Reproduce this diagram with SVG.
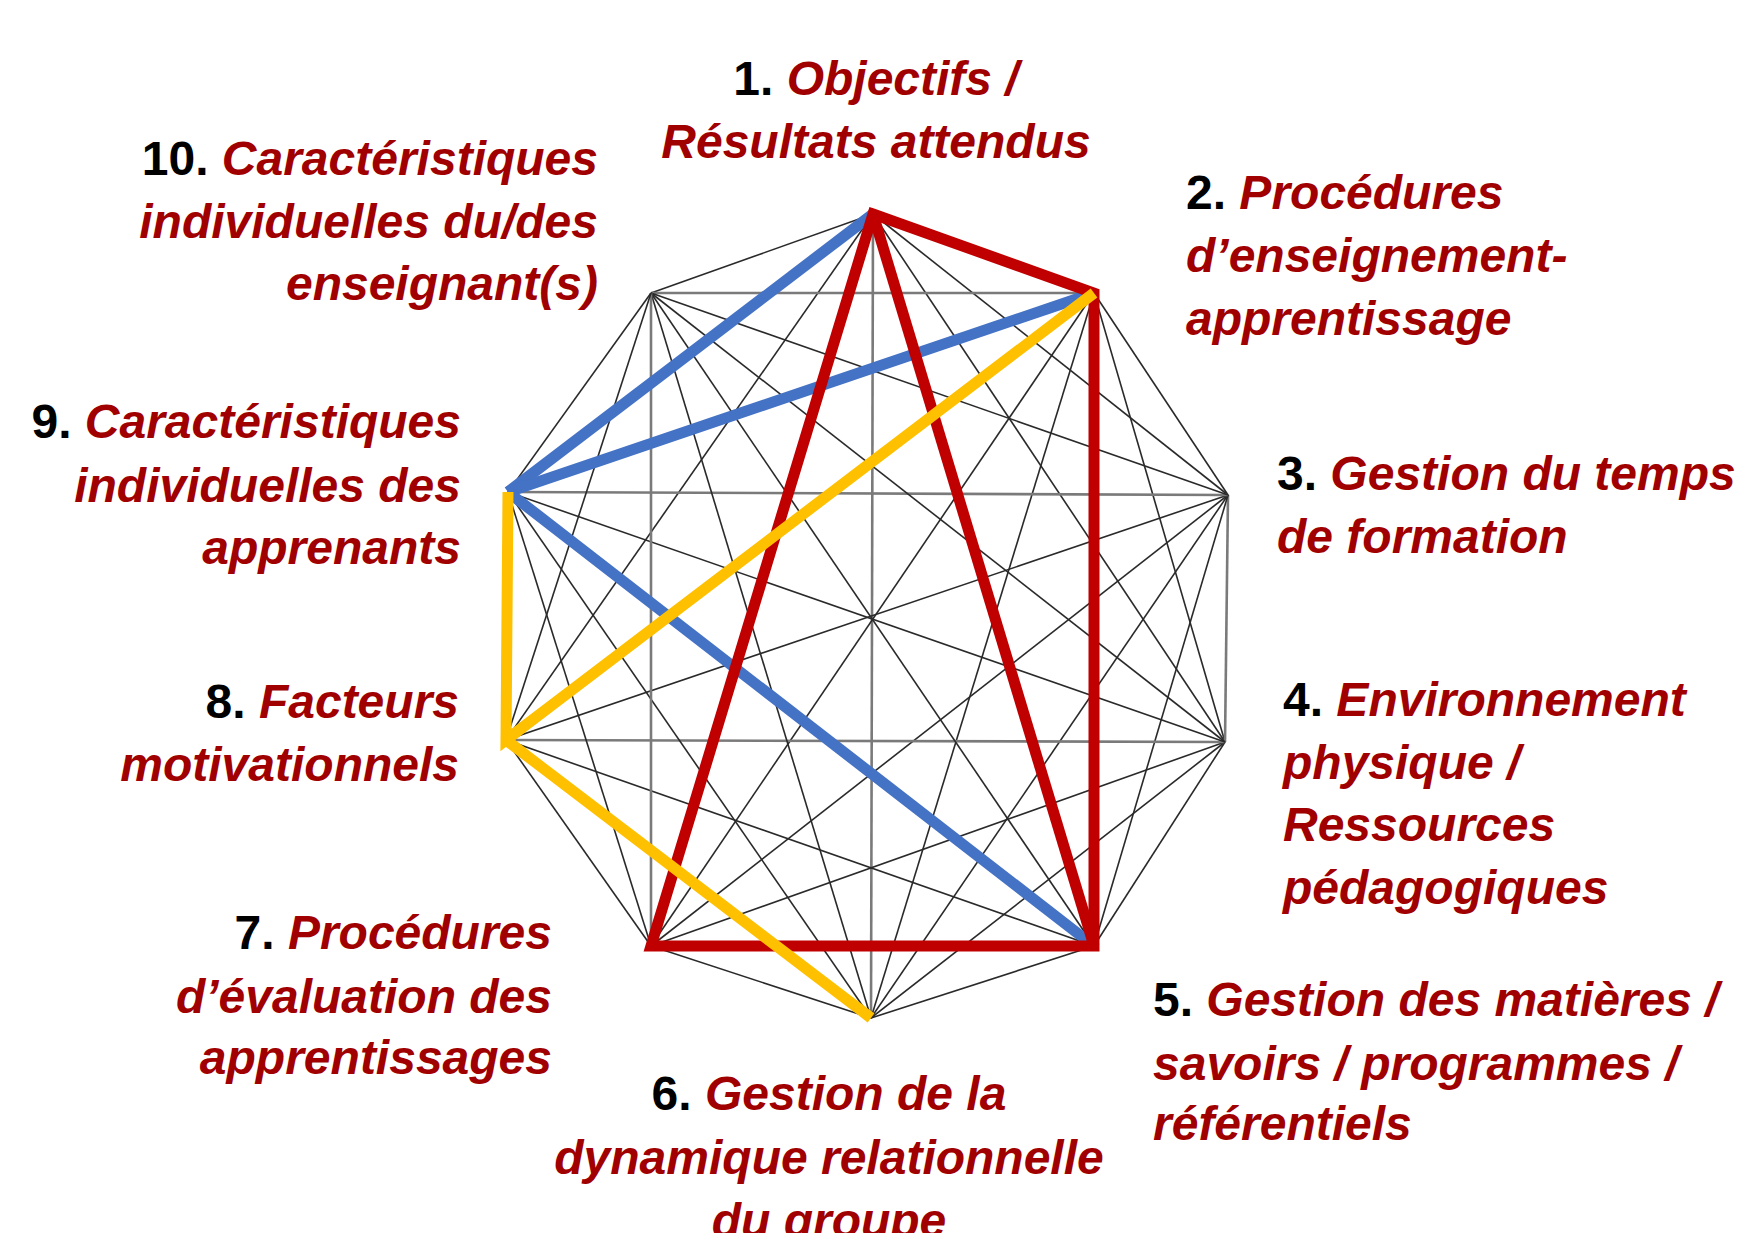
<svg xmlns="http://www.w3.org/2000/svg" width="1745" height="1233" viewBox="0 0 1745 1233">
<style>
.t{font-family:"Liberation Sans",Arial,sans-serif;font-weight:bold;font-size:48px;fill:#A00000;font-style:italic}
.n{fill:#000;font-style:normal}
.e{text-anchor:end}
.m{text-anchor:middle}
.d{stroke:#2a2a2a;stroke-width:1.6;fill:none}
.a{stroke:#7a7a7a;stroke-width:2.6;fill:none}
.red{stroke:#C00000;stroke-width:11;fill:none;stroke-linejoin:miter}
.blue{stroke:#4472C4;stroke-width:11;fill:none}
.yel{stroke:#FFC000;stroke-width:11;fill:none;stroke-linejoin:miter}
</style>
<rect width="1745" height="1233" fill="#fff"/>
<g id="connectors">
<g id="mesh">
<line class="d" x1="873" y1="214" x2="1094" y2="293"/>
<line class="d" x1="873" y1="214" x2="1228" y2="495"/>
<line class="d" x1="873" y1="214" x2="1225" y2="742"/>
<line class="d" x1="873" y1="214" x2="1094" y2="946"/>
<line class="a" x1="873" y1="214" x2="871" y2="1018"/>
<line class="d" x1="873" y1="214" x2="651" y2="946"/>
<line class="d" x1="873" y1="214" x2="506" y2="740"/>
<line class="d" x1="873" y1="214" x2="508" y2="492"/>
<line class="d" x1="873" y1="214" x2="651" y2="293"/>
<line class="d" x1="1094" y1="293" x2="1228" y2="495"/>
<line class="d" x1="1094" y1="293" x2="1225" y2="742"/>
<line class="a" x1="1094" y1="293" x2="1094" y2="946"/>
<line class="d" x1="1094" y1="293" x2="871" y2="1018"/>
<line class="d" x1="1094" y1="293" x2="651" y2="946"/>
<line class="d" x1="1094" y1="293" x2="506" y2="740"/>
<line class="d" x1="1094" y1="293" x2="508" y2="492"/>
<line class="a" x1="1094" y1="293" x2="651" y2="293"/>
<line class="a" x1="1228" y1="495" x2="1225" y2="742"/>
<line class="d" x1="1228" y1="495" x2="1094" y2="946"/>
<line class="d" x1="1228" y1="495" x2="871" y2="1018"/>
<line class="d" x1="1228" y1="495" x2="651" y2="946"/>
<line class="d" x1="1228" y1="495" x2="506" y2="740"/>
<line class="a" x1="1228" y1="495" x2="508" y2="492"/>
<line class="d" x1="1228" y1="495" x2="651" y2="293"/>
<line class="d" x1="1225" y1="742" x2="1094" y2="946"/>
<line class="d" x1="1225" y1="742" x2="871" y2="1018"/>
<line class="d" x1="1225" y1="742" x2="651" y2="946"/>
<line class="a" x1="1225" y1="742" x2="506" y2="740"/>
<line class="d" x1="1225" y1="742" x2="508" y2="492"/>
<line class="d" x1="1225" y1="742" x2="651" y2="293"/>
<line class="d" x1="1094" y1="946" x2="871" y2="1018"/>
<line class="a" x1="1094" y1="946" x2="651" y2="946"/>
<line class="d" x1="1094" y1="946" x2="506" y2="740"/>
<line class="d" x1="1094" y1="946" x2="508" y2="492"/>
<line class="d" x1="1094" y1="946" x2="651" y2="293"/>
<line class="d" x1="871" y1="1018" x2="651" y2="946"/>
<line class="d" x1="871" y1="1018" x2="506" y2="740"/>
<line class="d" x1="871" y1="1018" x2="508" y2="492"/>
<line class="d" x1="871" y1="1018" x2="651" y2="293"/>
<line class="d" x1="651" y1="946" x2="506" y2="740"/>
<line class="d" x1="651" y1="946" x2="508" y2="492"/>
<line class="a" x1="651" y1="946" x2="651" y2="293"/>
<line class="d" x1="506" y1="740" x2="508" y2="492"/>
<line class="d" x1="506" y1="740" x2="651" y2="293"/>
<line class="d" x1="508" y1="492" x2="651" y2="293"/>
</g>
<g id="blue-links">
<line class="blue" x1="873" y1="214" x2="508" y2="492"/>
<line class="blue" x1="1094" y1="293" x2="508" y2="492"/>
<line class="blue" x1="508" y1="492" x2="1094" y2="946"/>
</g>
<g id="red-links">
<path class="red" d="M873,214 L1094,293 L1094,946 L651,946 Z"/>
<line class="red" x1="873" y1="214" x2="1094" y2="946"/>
</g>
<g id="yellow-links">
<path class="yel" d="M1094,293 L506,740 L508,492"/>
<line class="yel" x1="506" y1="740" x2="871" y2="1018"/>
</g>
</g>
<g id="node1">
<text class="t m" x="876" y="95"><tspan class="n">1.</tspan> Objectifs /</text>
<text class="t m" x="876" y="158">Résultats attendus</text>
</g>
<g id="node2">
<text class="t" x="1186" y="209"><tspan class="n">2.</tspan> Procédures</text>
<text class="t" x="1186" y="272">d’enseignement-</text>
<text class="t" x="1186" y="335">apprentissage</text>
</g>
<g id="node3">
<text class="t" x="1277" y="490"><tspan class="n">3.</tspan> Gestion du temps</text>
<text class="t" x="1277" y="553">de formation</text>
</g>
<g id="node4">
<text class="t" x="1283" y="716"><tspan class="n">4.</tspan> Environnement</text>
<text class="t" x="1283" y="779">physique /</text>
<text class="t" x="1283" y="841">Ressources</text>
<text class="t" x="1283" y="904">pédagogiques</text>
</g>
<g id="node5">
<text class="t" x="1153" y="1016"><tspan class="n">5.</tspan> Gestion des matières /</text>
<text class="t" x="1153" y="1080">savoirs / programmes /</text>
<text class="t" x="1153" y="1140">référentiels</text>
</g>
<g id="node6">
<text class="t m" x="829" y="1110"><tspan class="n">6.</tspan> Gestion de la</text>
<text class="t m" x="829" y="1174">dynamique relationnelle</text>
<text class="t m" x="829" y="1237">du groupe</text>
</g>
<g id="node7">
<text class="t e" x="552" y="949"><tspan class="n">7.</tspan> Procédures</text>
<text class="t e" x="552" y="1013">d’évaluation des</text>
<text class="t e" x="552" y="1074">apprentissages</text>
</g>
<g id="node8">
<text class="t e" x="459" y="718"><tspan class="n">8.</tspan> Facteurs</text>
<text class="t e" x="459" y="781">motivationnels</text>
</g>
<g id="node9">
<text class="t e" x="461" y="438"><tspan class="n">9.</tspan> Caractéristiques</text>
<text class="t e" x="461" y="502">individuelles des</text>
<text class="t e" x="461" y="564">apprenants</text>
</g>
<g id="node10">
<text class="t e" x="598" y="175"><tspan class="n">10.</tspan> Caractéristiques</text>
<text class="t e" x="598" y="238">individuelles du/des</text>
<text class="t e" x="598" y="300">enseignant(s)</text>
</g>
</svg>
